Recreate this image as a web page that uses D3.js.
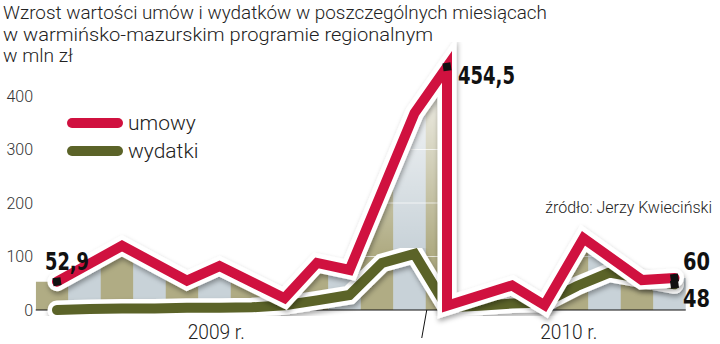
<!DOCTYPE html>
<html>
<head>
<meta charset="utf-8">
<title>umowy i wydatki</title>
<script src="https://cdn.jsdelivr.net/npm/d3@7"></script>
<style>
  body { margin: 0; background: #fff; }
  text { font-family: Roboto, "Open Sans", sans-serif; }
  .big { font-family: "Liberation Sans Narrow", "DejaVu Sans Condensed", sans-serif; font-weight: bold; }
</style>
</head>
<body>
<script>

// months: 0 = Jan 2009 ... 19 = Aug 2010
var months = d3.range(20);
var yTicks = [0, 100, 200, 300, 400];
var years = ["2009 r.", "2010 r."];
var titleLines = [
  "Wzrost wartości umów i wydatków w poszczególnych miesiącach",
  "w warmińsko-mazurskim programie regionalnym",
  "w mln zł"
];
var source = "źródło: Jerzy Kwieciński";

var umowyMonth = [0, 2, 4, 5, 7, 8, 9, 11, 12, 12, 14, 15, 16.2, 18, 19];
var umowyValue = [52.9, 120, 55, 82, 22, 88, 75, 368, 454.5, 8, 46, 9, 134, 56, 60];

var wydatkiMonth = [0, 1, 2, 3, 4, 5, 6, 7, 8, 9, 10, 11, 12, 13, 14, 15, 16, 17, 19];
var wydatkiValue = [0, 2, 3, 3, 4, 4, 5, 9, 18, 28, 88, 105, 5, 8, 12, 14, 45, 70, 48];

var umowy = umowyMonth.map(function (m, i) { return {m: m, v: umowyValue[i]}; });
var wydatki = wydatkiMonth.map(function (m, i) { return {m: m, v: wydatkiValue[i]}; });

var red = "#d0113f", green = "#5b6328";

var svg = d3.select("body").append("svg")
    .attr("width", 720)
    .attr("height", 344);

var x = d3.scaleLinear().domain([0, 19]).range([57, 674.5]);
var y = d3.scaleLinear().domain([0, 400]).range([310, 96]);
var band = d3.scaleBand().domain(months).range([x(0) - 21.25, x(19) + 11.25]);

var defs = svg.append("defs");

// area behind the lines (shadow of umowy)
var shift = -5;
var areaPts = [{px: band.range()[0], v: umowyValue[0]}]
  .concat(umowy.map(function (d) { return {px: x(d.m) + shift, v: d.v}; }))
  .concat([{px: band.range()[1], v: umowyValue[umowyValue.length - 1]}]);

var area = d3.area()
    .x(function (d) { return d.px; })
    .y0(y(0))
    .y1(function (d) { return y(d.v); });

defs.append("clipPath").attr("id", "areaClip")
  .append("path").attr("d", area(areaPts));

var fade = defs.append("linearGradient").attr("id", "fade")
    .attr("gradientUnits", "userSpaceOnUse")
    .attr("x1", 0).attr("x2", 0).attr("y1", 60).attr("y2", 250);
fade.append("stop").attr("offset", 0).attr("stop-color", "#fff").attr("stop-opacity", 0.95);
fade.append("stop").attr("offset", 1).attr("stop-color", "#fff").attr("stop-opacity", 0);

var sh = defs.append("filter").attr("id", "shadow")
    .attr("x", "-10%").attr("y", "-10%").attr("width", "120%").attr("height", "120%");
sh.append("feDropShadow").attr("dx", 1).attr("dy", 3).attr("stdDeviation", 2.5)
    .attr("flood-color", "#000").attr("flood-opacity", 0.35);

var bg = svg.append("g").attr("clip-path", "url(#areaClip)");
bg.selectAll("rect.stripe")
  .data(months)
  .enter().append("rect")
    .attr("class", "stripe")
    .attr("x", function (d) { return band(d); })
    .attr("width", band.bandwidth() + 0.5)
    .attr("y", y(470))
    .attr("height", y(0) - y(470))
    .attr("fill", function (d) { return d % 2 ? "#c8d2d8" : "#b0ac84"; });
bg.append("rect")
    .attr("x", 0).attr("y", 0).attr("width", 720).attr("height", 310)
    .attr("fill", "url(#fade)");
bg.selectAll("line.grid")
  .data(yTicks.slice(1, 4))
  .enter().append("line")
    .attr("x1", band.range()[0]).attr("x2", band.range()[1])
    .attr("y1", function (d) { return y(d); })
    .attr("y2", function (d) { return y(d); })
    .attr("stroke", "#fff").attr("stroke-opacity", 0.7);

// baseline and year divider
svg.append("line")
    .attr("x1", band.range()[0]).attr("x2", band.range()[1])
    .attr("y1", y(0)).attr("y2", y(0))
    .attr("stroke", "#111").attr("stroke-width", 1.2);
svg.append("line")
    .attr("x1", band(12) + 1).attr("x2", band(12) - 4)
    .attr("y1", y(0)).attr("y2", 338)
    .attr("stroke", "#111").attr("stroke-width", 1);

var line = d3.line()
    .x(function (d) { return x(d.m); })
    .y(function (d) { return y(d.v); });

function drawSeries(data, color) {
  svg.append("path")
      .attr("d", line(data))
      .attr("fill", "none")
      .attr("stroke", "#fff")
      .attr("stroke-width", 19)
      .attr("stroke-linejoin", "miter")
      .attr("stroke-linecap", "round")
      .attr("filter", "url(#shadow)");
  svg.append("path")
      .attr("d", line(data))
      .attr("fill", "none")
      .attr("stroke", color)
      .attr("stroke-width", 10)
      .attr("stroke-linejoin", "miter")
      .attr("stroke-linecap", "round");
}
drawSeries(wydatki, green);
drawSeries(umowy, red);

// end markers
var marks = [umowy[0], umowy[8], umowy[umowy.length - 1], wydatki[wydatki.length - 1]];
svg.selectAll("rect.mark")
  .data(marks)
  .enter().append("rect")
    .attr("class", "mark")
    .attr("x", -4).attr("y", -4).attr("width", 8).attr("height", 8)
    .attr("fill", "#111")
    .attr("transform", function (d) {
      return "translate(" + x(d.m) + "," + y(d.v) + ") rotate(-8)";
    });

// value labels
var valLabels = [
  {t: "52,9", px: 45, py: 270, w: 44},
  {t: "454,5", px: 458, py: 84, w: 57},
  {t: "60", px: 683, py: 270, w: 27},
  {t: "48", px: 683, py: 307, w: 27}
];
svg.selectAll("text.val")
  .data(valLabels)
  .enter().append("text")
    .attr("class", "big")
    .attr("x", function (d) { return d.px; })
    .attr("y", function (d) { return d.py; })
    .attr("font-size", 25)
    .attr("fill", "#111")
    .attr("textLength", function (d) { return d.w; })
    .attr("lengthAdjust", "spacingAndGlyphs")
    .text(function (d) { return d.t; });

// y axis
var yAxis = svg.append("g")
    .attr("transform", "translate(33,0)")
    .call(d3.axisLeft(y).tickValues(yTicks).tickSize(0).tickPadding(0));
yAxis.select(".domain").remove();
yAxis.selectAll("text")
    .attr("font-family", "Roboto")
    .attr("font-weight", 300)
    .attr("font-size", 16)
    .attr("fill", "#333");

// legend
var legend = [{t: "umowy", c: red, py: 123}, {t: "wydatki", c: green, py: 151}];
legend.forEach(function (d) {
  svg.append("line")
      .attr("x1", 72).attr("x2", 118).attr("y1", d.py).attr("y2", d.py)
      .attr("stroke", d.c).attr("stroke-width", 10).attr("stroke-linecap", "round");
  svg.append("text")
      .attr("x", 128).attr("y", d.py + 7)
      .attr("font-size", 21).attr("font-weight", 300).attr("fill", "#222")
      .text(d.t);
});

// title
var tl = [544, 430, 70];
svg.selectAll("text.title")
  .data(titleLines)
  .enter().append("text")
    .attr("x", 3)
    .attr("y", function (d, i) { return 19 + i * 21.5; })
    .attr("font-size", 19)
    .attr("font-weight", 300)
    .attr("fill", "#222")
    .attr("textLength", function (d, i) { return tl[i]; })
    .attr("lengthAdjust", "spacingAndGlyphs")
    .text(function (d) { return d; });

svg.append("text")
    .attr("x", 712).attr("y", 213)
    .attr("text-anchor", "end")
    .attr("font-size", 16).attr("font-weight", 300).attr("fill", "#222")
    .text(source);

// year labels
var yearX = [band(5) + 18, band(16) + 13];
svg.selectAll("text.year")
  .data(years)
  .enter().append("text")
    .attr("x", function (d, i) { return yearX[i]; })
    .attr("y", 339)
    .attr("text-anchor", "middle")
    .attr("font-size", 21).attr("font-weight", 300).attr("fill", "#222")
    .attr("textLength", 57).attr("lengthAdjust", "spacingAndGlyphs")
    .text(function (d) { return d; });

</script>
</body>
</html>
